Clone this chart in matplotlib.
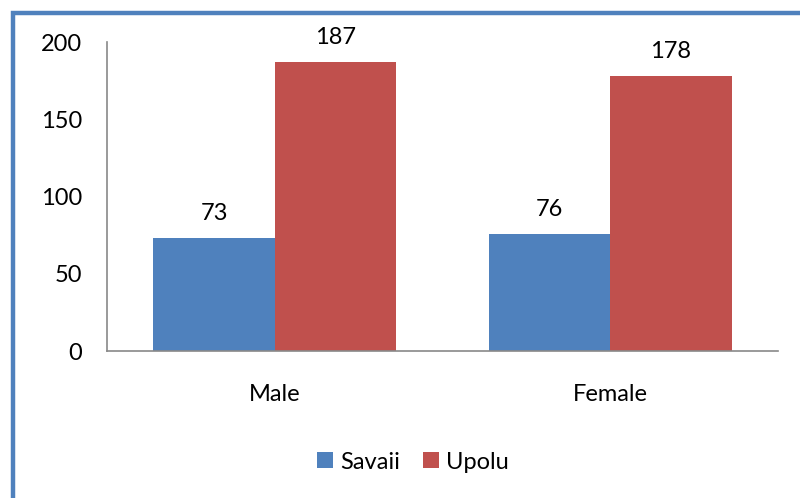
import matplotlib
matplotlib.use("Agg")
import matplotlib.pyplot as plt
from matplotlib.patches import Rectangle
import numpy as np

categories = ["Male", "Female"]
series_names = ["Savaii", "Upolu"]
savaii = [73, 76]
upolu = [187, 178]
yticks = [0, 50, 100, 150, 200]

colors = ["#4F81BD", "#C0504D"]
plt.rcParams['font.family'] = ['Lato', 'DejaVu Sans']

fig = plt.figure(figsize=(8.0, 4.98), dpi=100)
ax = fig.add_axes([107/800, 1 - 351/498, (778-107)/800, 308.7/498])

x = np.arange(len(categories))
w = 0.362
b1 = ax.bar(x - w/2, savaii, w, color=colors[0], label=series_names[0])
b2 = ax.bar(x + w/2, upolu, w, color=colors[1], label=series_names[1])

fs = 17
for bars in (b1, b2):
    for r in bars:
        ax.annotate(f"{int(r.get_height())}", (r.get_x() + r.get_width()/2, r.get_height()),
                    xytext=(0, 10), textcoords="offset points", ha="center", va="bottom",
                    fontsize=fs, color="black")

ax.set_xlim(-0.5, 1.5)
ax.set_ylim(0, 200)
ax.set_yticks(yticks)
ax.set_xticks(x)
ax.set_xticklabels(categories)
ax.tick_params(axis="both", length=0, labelsize=fs, colors="black")
ax.tick_params(axis="y", pad=18)
ax.tick_params(axis="x", pad=24)
for s in ["top", "right"]:
    ax.spines[s].set_visible(False)
for s in ["left", "bottom"]:
    ax.spines[s].set_color("#898989")
    ax.spines[s].set_linewidth(1.2)

leg = fig.legend(handles=[b1, b2], labels=series_names, loc="center",
                 bbox_to_anchor=(413/800, 1 - 462/498), ncol=2, frameon=False,
                 fontsize=fs, handlelength=0.65, handleheight=0.65,
                 handletextpad=0.3, columnspacing=1.0)

fig.patches.append(Rectangle((13/800, -0.2), 1.5, 1 - 13/498 + 0.2,
                             transform=fig.transFigure, fill=False,
                             edgecolor="#4F81BD", linewidth=3.2, zorder=10))

fig.savefig("out.png", dpi=100, facecolor="white")
